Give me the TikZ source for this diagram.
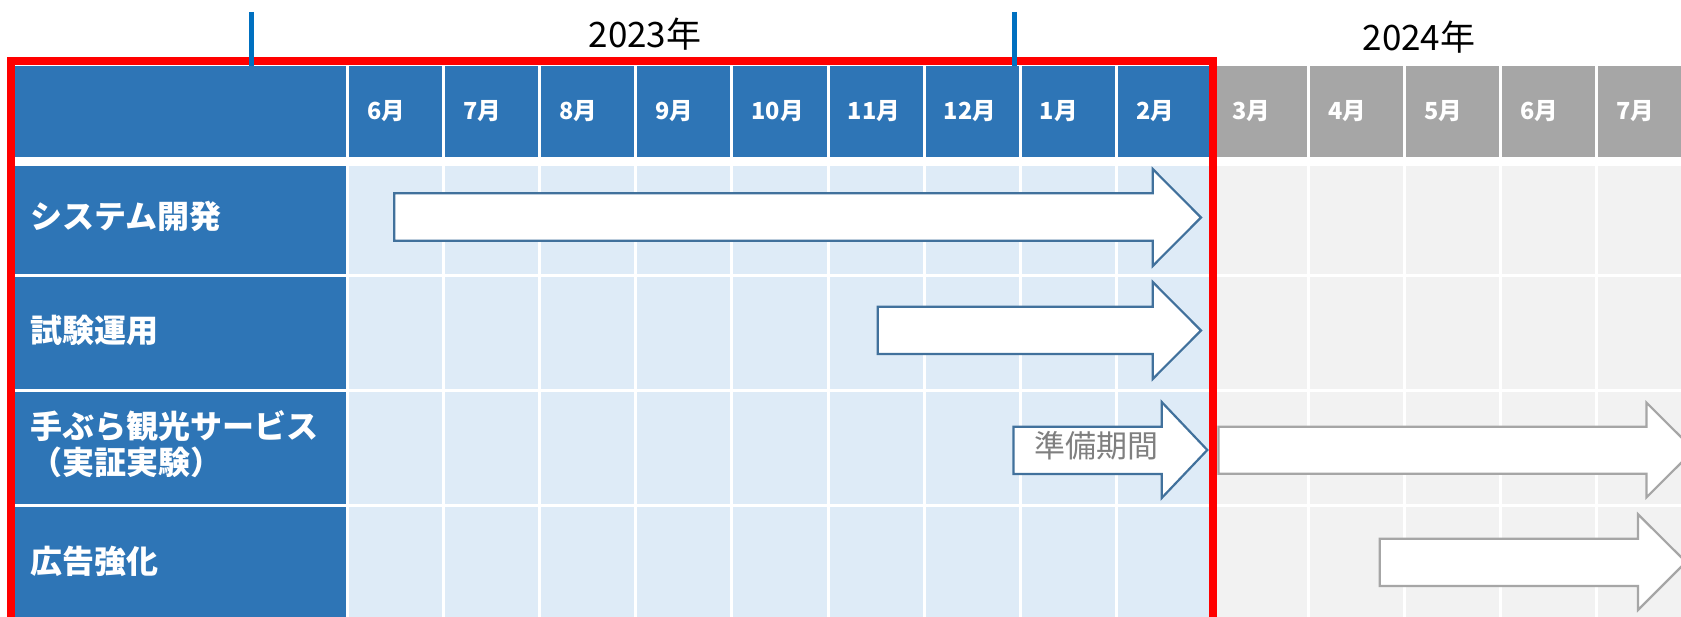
\documentclass[tikz,border=0pt]{standalone}
\usepackage{fontspec}
\setmainfont{Noto Sans CJK JP}
\definecolor{hdblue}{HTML}{2E75B6}
\definecolor{hdgray}{HTML}{A6A6A6}
\definecolor{cellblue}{HTML}{DEEBF7}
\definecolor{cellgray}{HTML}{F2F2F2}
\definecolor{arrowblue}{HTML}{41719C}
\definecolor{tickblue}{HTML}{0070C0}
\definecolor{preptext}{HTML}{7F7F7F}

\begin{document}
\begin{tikzpicture}[x=1pt, y=-1pt,
    yearlabel/.style={font=\fontsize{35}{40}\selectfont, inner sep=0},
    monthlabel/.style={font=\bfseries\fontsize{23.5}{26}\selectfont, text=white, anchor=west, inner sep=0},
    rowlabel/.style={font=\bfseries\fontsize{32}{36}\selectfont, text=white, anchor=west, align=left, inner sep=0},
    planarrow/.style={draw=arrowblue, fill=white, line width=2.2pt, line join=miter},
    laterarrow/.style={draw=hdgray, fill=white, line width=2.2pt, line join=miter},
    frameline/.style={draw=red, line width=8pt, line join=miter},
    tickline/.style={draw=tickblue, line width=5pt}]
      \useasboundingbox (0,0) rectangle (1681,617);
      \clip (0,0) rectangle (1681,617);
      \fill[white] (0,0) rectangle (1681,617);
      \fill[hdblue] (12,66) rectangle (346,157.3);
      \foreach \m [count=\k from 0] in {6,7,8,9,10,11,12,1,2,3,4,5,6,7} {
        \pgfmathsetmacro{\xl}{349+96.1*\k}
        \ifnum\k<9 \def\hd{hdblue}\else\def\hd{hdgray}\fi
        \fill[\hd] (\xl,66) rectangle (\xl+93.1,157.3);
        \node[monthlabel] (m\k) at (\xl+18,111.5) {\m 月};
      }
      \foreach \t/\b in {165.7/274.5, 277.5/389.2, 392.2/503.9, 506.9/625} {
        \fill[hdblue] (12,\t) rectangle (346,\b);
        \foreach \k in {0,...,13} {
          \pgfmathsetmacro{\xl}{349+96.1*\k}
          \ifnum\k<9 \def\cl{cellblue}\else\def\cl{cellgray}\fi
          \fill[\cl] (\xl,\t) rectangle (\xl+93.1,\b);
        }
      }
      \node[rowlabel] (dev) at (30,216) {システム開発};
      \node[rowlabel] (trial) at (30,330) {試験運用};
      \node[rowlabel] (tour) at (30,444) {手ぶら観光サービス\\（実証実験）};
      \node[rowlabel] (ads) at (30,561) {広告強化};
      \draw[planarrow] (394.3,193.3) -- (1152.7,193.3) -- (1152.7,169) -- (1201,217.5)
        -- (1152.7,266) -- (1152.7,240.7) -- (394.3,240.7) -- cycle;
      \draw[planarrow] (877.7,306.7) -- (1152.7,306.7) -- (1152.7,282) -- (1201,330.5)
        -- (1152.7,379) -- (1152.7,354) -- (877.7,354) -- cycle;
      \draw[planarrow] (1013.5,426.7) -- (1161.7,426.7) -- (1161.7,402) -- (1207.3,450)
        -- (1161.7,498) -- (1161.7,474) -- (1013.5,474) -- cycle;
      \node[font=\fontsize{31}{36}\selectfont, text=preptext, anchor=west, inner sep=0] (prep) at (1034,446) {準備期間};
      \draw[laterarrow] (1218.5,426.7) -- (1646.5,426.7) -- (1646.5,402.7) -- (1694,450)
        -- (1646.5,497.3) -- (1646.5,473.7) -- (1218.5,473.7) -- cycle;
      \draw[laterarrow] (1379.8,538.7) -- (1638,538.7) -- (1638,514.3) -- (1686,562)
        -- (1638,610) -- (1638,586) -- (1379.8,586) -- cycle;
      \draw[frameline] (10.8,640) -- (10.8,61.5) -- (1212.5,61.5) -- (1212.5,640);
      \draw[tickline] (251,12) -- (251,66);
      \draw[tickline] (1014,12) -- (1014,66);
      \node[yearlabel] (y2023) at (645,34) {2023年};
      \node[yearlabel] (y2024) at (1419,37.5) {2024年};
    \end{tikzpicture}
\end{document}
